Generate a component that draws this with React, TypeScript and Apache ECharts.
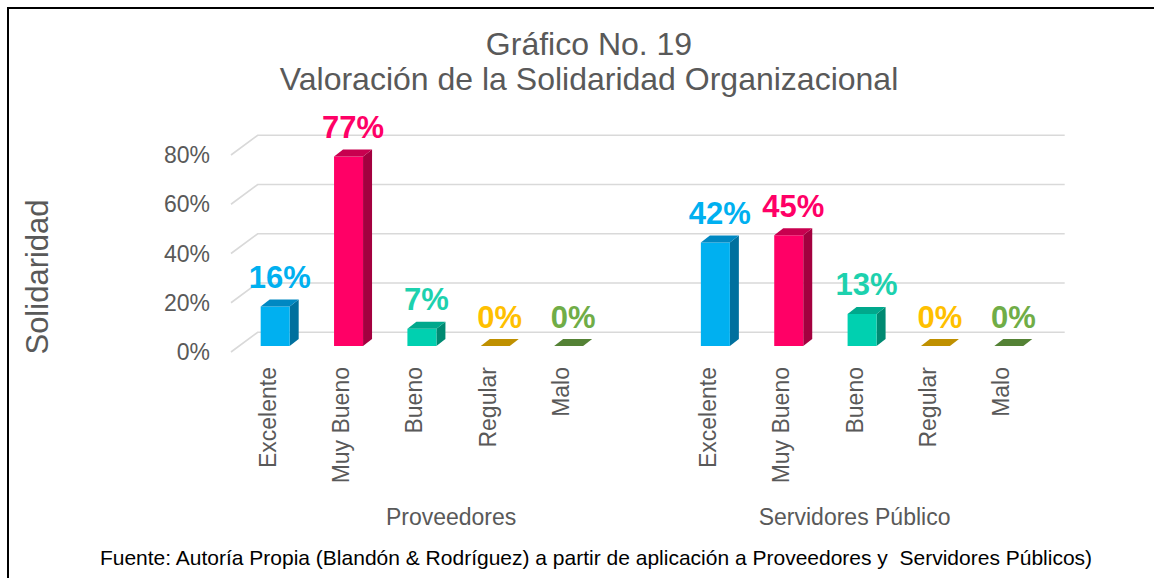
import React, { useEffect, useRef } from "react";
import * as echarts from "echarts";

const FONT = "'Liberation Sans', Arial, Helvetica, sans-serif";

// Data
const categories = ["Excelente", "Muy Bueno", "Bueno", "Regular", "Malo"];
const groups = ["Proveedores", "Servidores Público"];
const proveedores = [16, 77, 7, 0, 0];
const servidores = [42, 45, 13, 0, 0];
const yTicks = [0, 20, 40, 60, 80];

// Colours per category: front, top, side, label
const frontColors = ["#00B0F0", "#FF0066", "#00D0B0", "#FFC000", "#70AD47"];
const topColors = ["#0088C2", "#C8004F", "#00A88C", "#BF9000", "#548235"];
const sideColors = ["#00709E", "#A3003F", "#008A72", "#A07800", "#46702C"];
const labelColors = ["#00B0F0", "#FF0066", "#1DD1AE", "#FFC000", "#70AD47"];

// axis categories: group 1, blank spacer, group 2
const axisCats = [...categories, "", ...categories];

export default function App() {
  const ref = useRef<HTMLDivElement>(null);

  useEffect(() => {
    if (!ref.current) return;
    const chart = echarts.init(ref.current, undefined, { renderer: "svg" });

    const barData: number[][] = [];
    proveedores.forEach((v, i) => barData.push([i, v, i]));
    servidores.forEach((v, i) => barData.push([i + 6, v, i]));

    const groupRanges = [
      [0, 5],
      [6, 10],
    ];

    const BAR_W = 29;
    const SHIFT_X = 7.5;
    const SHIFT_Y = -6;
    const DEPTH_X = 9;
    const DEPTH_Y = -7;
    const WALL_X = 26.7;
    const WALL_Y = -19.7;

    const option: any = {
      animation: false,
      backgroundColor: "#ffffff",
      title: {
        text: "Gráfico No. 19\nValoración de la Solidaridad Organizacional",
        left: 584,
        top: 21,
        textAlign: "center",
        textStyle: {
          fontSize: 32,
          fontWeight: "normal",
          color: "#595959",
          lineHeight: 35,
          fontFamily: FONT,
        },
      },
      grid: { left: 231, right: 116, top: 155, bottom: 226 },
      xAxis: {
        type: "category",
        data: axisCats,
        boundaryGap: true,
        axisLine: { show: false },
        axisTick: { show: false },
        splitLine: { show: false },
        axisLabel: {
          interval: 0,
          rotate: 90,
          margin: 15,
          fontSize: 23,
          color: "#595959",
          fontFamily: FONT,
        },
      },
      yAxis: {
        type: "value",
        min: 0,
        max: 80,
        interval: 20,
        axisLine: { show: false },
        axisTick: { show: false },
        splitLine: { show: false },
        axisLabel: {
          formatter: "{value}%",
          margin: 21,
          fontSize: 23,
          color: "#595959",
          fontFamily: FONT,
        },
      },
      graphic: [
        {
          type: "rect",
          shape: { x: 8, y: 8, width: 1200, height: 620 },
          style: { fill: "none", stroke: "#000000", lineWidth: 2 },
          z: 100,
        },
        {
          type: "text",
          x: 37,
          y: 277,
          rotation: Math.PI / 2,
          style: {
            text: "Solidaridad",
            align: "center",
            verticalAlign: "middle",
            fontSize: 31,
            fill: "#595959",
            fontFamily: FONT,
          },
        },
        {
          type: "text",
          x: 596,
          y: 557,
          style: {
            text: "Fuente: Autoría Propia (Blandón & Rodríguez) a partir de aplicación a Proveedores y  Servidores Públicos)",
            align: "center",
            verticalAlign: "middle",
            fontSize: 21,
            fill: "#000000",
            fontFamily: FONT,
          },
        },
      ],
      series: [
        {
          type: "custom",
          name: "grid",
          z: 1,
          silent: true,
          data: yTicks.map((v) => [0, v]),
          renderItem: (params: any, api: any) => {
            const c = api.coord([0, api.value(1)]);
            const bw = api.size([1, 0])[0];
            const left = c[0] - bw / 2;
            const right = left + bw * axisCats.length;
            const y = c[1];
            return {
              type: "polyline",
              shape: {
                points: [
                  [left, y],
                  [left + WALL_X, y + WALL_Y],
                  [right + WALL_X, y + WALL_Y],
                ],
              },
              style: { stroke: "#D9D9D9", lineWidth: 1.6, fill: null },
            };
          },
        },
        {
          type: "custom",
          name: "bars",
          z: 5,
          data: barData,
          renderItem: (params: any, api: any) => {
            const xi = api.value(0);
            const v = api.value(1);
            const ci = api.value(2);
            const base = api.coord([xi, 0]);
            const topP = api.coord([xi, v]);
            const cx = base[0] + SHIFT_X;
            const bottom = base[1] + SHIFT_Y;
            const top = topP[1] + SHIFT_Y;
            const l = cx - BAR_W / 2;
            const r = cx + BAR_W / 2;
            const children: any[] = [];
            if (bottom - top > 0.5) {
              children.push({
                type: "polygon",
                shape: {
                  points: [
                    [r, top],
                    [r + DEPTH_X, top + DEPTH_Y],
                    [r + DEPTH_X, bottom + DEPTH_Y],
                    [r, bottom],
                  ],
                },
                style: { fill: sideColors[ci] },
              });
              children.push({
                type: "rect",
                shape: { x: l, y: top, width: BAR_W, height: bottom - top },
                style: { fill: frontColors[ci] },
              });
            }
            children.push({
              type: "polygon",
              shape: {
                points: [
                  [l, top],
                  [r, top],
                  [r + DEPTH_X, top + DEPTH_Y],
                  [l + DEPTH_X, top + DEPTH_Y],
                ],
              },
              style: { fill: topColors[ci] },
            });
            children.push({
              type: "text",
              style: {
                text: v + "%",
                x: cx + DEPTH_X / 2,
                y: top + DEPTH_Y - 22,
                align: "center",
                verticalAlign: "middle",
                fontSize: 31,
                fontWeight: "bold",
                fill: labelColors[ci],
                fontFamily: FONT,
              },
            });
            return { type: "group", children };
          },
        },
        {
          type: "custom",
          name: "groups",
          z: 5,
          silent: true,
          data: groupRanges,
          renderItem: (params: any, api: any) => {
            const a = api.coord([api.value(0), 0]);
            const b = api.coord([api.value(1), 0]);
            return {
              type: "text",
              style: {
                text: groups[params.dataIndex],
                x: (a[0] + b[0]) / 2,
                y: a[1] + 165,
                align: "center",
                verticalAlign: "middle",
                fontSize: 23,
                fill: "#595959",
                fontFamily: FONT,
              },
            };
          },
        },
      ],
    };

    chart.setOption(option);
    return () => chart.dispose();
  }, []);

  return (
    <div
      ref={ref}
      style={{ position: "fixed", left: 0, top: 0, width: 1154, height: 578, background: "#fff" }}
    />
  );
}
